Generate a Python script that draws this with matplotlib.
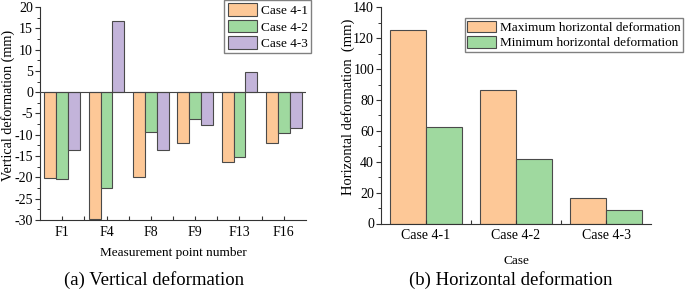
import matplotlib
matplotlib.use("Agg")
import matplotlib.pyplot as plt
import numpy as np
from matplotlib.ticker import MultipleLocator, FixedLocator

plt.rcParams['font.family'] = ['Liberation Serif', 'DejaVu Serif']
plt.rcParams['axes.unicode_minus'] = False

# (a) vertical deformation
points = ['F1', 'F4', 'F8', 'F9', 'F13', 'F16']
case41_v = [-20.1, -29.8, -20.0, -12.0, -16.4, -11.9]
case42_v = [-20.3, -22.6, -9.3, -6.2, -15.2, -9.6]
case43_v = [-13.5, 16.6, -13.6, -7.6, 4.8, -8.4]

# (b) horizontal deformation
cases = ['Case 4-1', 'Case 4-2', 'Case 4-3']
max_h = [125.3, 86.2, 16.3]
min_h = [62.6, 41.8, 8.5]

orange = '#FDC897'
green = '#9FD99F'
purple = '#C3B4DA'
edge = '#4a4a4a'

W, H = 685, 289
fig = plt.figure(figsize=(W / 100, H / 100), dpi=100)


def px_axes(x0, x1, ytop, ybot):
    return fig.add_axes([x0 / W, (H - ybot) / H, (x1 - x0) / W, (ybot - ytop) / H])


def style(ax):
    for s in ['top', 'right']:
        ax.spines[s].set_visible(False)
    for s in ['left', 'bottom']:
        ax.spines[s].set_linewidth(0.8)
        ax.spines[s].set_color('#333333')
    ax.tick_params(axis='y', which='major', direction='out', length=3.5, width=0.8,
                   labelsize=10, pad=1.5, color='#333333')
    ax.tick_params(axis='y', which='minor', direction='out', length=2, width=0.7, color='#333333')
    ax.tick_params(axis='x', which='major', direction='in', length=3, width=0.8,
                   labelsize=10, pad=4, color='#333333')
    ax.tick_params(axis='x', which='minor', direction='in', length=3, width=0.8, color='#333333')


# left panel
ax1 = px_axes(40, 306, 7, 220)
x = np.arange(1, len(points) + 1)
bw = 0.267
ax1.bar(x - bw, case41_v, bw, color=orange, edgecolor=edge, linewidth=0.8, label='Case 4-1')
ax1.bar(x, case42_v, bw, color=green, edgecolor=edge, linewidth=0.8, label='Case 4-2')
ax1.bar(x + bw, case43_v, bw, color=purple, edgecolor=edge, linewidth=0.8, label='Case 4-3')
ax1.axhline(0, color='#444444', linewidth=0.8, zorder=3)
ax1.set_xlim(0.5, 6.5)
ax1.set_ylim(-30, 20)
ax1.set_xticks(x)
ax1.set_xticklabels(points)
ax1.xaxis.set_minor_locator(FixedLocator(np.arange(1.5, 6.5, 1)))
ax1.yaxis.set_major_locator(MultipleLocator(5))
ax1.yaxis.set_minor_locator(MultipleLocator(2.5))
style(ax1)
ax1.set_xlabel('Measurement point number', fontsize=9.5, labelpad=6)
ax1.set_ylabel('Vertical deformation (mm)', fontsize=10.2)
ax1.yaxis.set_label_coords(-25 / 266, 0.54)
ax1.legend(loc='upper right', bbox_to_anchor=(311 / W, 1.0), bbox_transform=fig.transFigure,
           fontsize=9.5, frameon=True, fancybox=False, edgecolor='#808080', framealpha=1,
           borderaxespad=0, borderpad=0.25, handlelength=2.2, handleheight=1.1,
           handletextpad=0.3, labelspacing=0.2)

# right panel
ax2 = px_axes(381, 651, 7.3, 223.5)
xc = np.arange(1, len(cases) + 1)
bw2 = 0.4
ax2.bar(xc - bw2 / 2, max_h, bw2, color=orange, edgecolor=edge, linewidth=0.8,
        label='Maximum horizontal deformation')
ax2.bar(xc + bw2 / 2, min_h, bw2, color=green, edgecolor=edge, linewidth=0.8,
        label='Minimum horizontal deformation')
ax2.set_xlim(0.5, 3.5)
ax2.set_ylim(0, 140)
ax2.set_xticks(xc)
ax2.set_xticklabels(cases)
ax2.xaxis.set_minor_locator(FixedLocator([1.5, 2.5]))
ax2.yaxis.set_major_locator(MultipleLocator(20))
ax2.yaxis.set_minor_locator(MultipleLocator(10))
style(ax2)
ax2.set_xlabel('Case', fontsize=9.5, labelpad=9)
ax2.set_ylabel('Horizontal deformation  (mm)', fontsize=10.5)
ax2.yaxis.set_label_coords(-26 / 270, 0.54)
ax2.legend(loc='upper right', bbox_to_anchor=(683 / W, 1 - 18 / H), bbox_transform=fig.transFigure,
           fontsize=9.5, frameon=True, fancybox=False, edgecolor='#808080', framealpha=1,
           borderaxespad=0, borderpad=0.2, handlelength=2.2, handleheight=1.0,
           handletextpad=0.25, labelspacing=0.15)

fig.text(154 / W, 1 - 280 / H, '(a) Vertical deformation', ha='center', va='center', fontsize=13.5)
fig.text(511 / W, 1 - 280 / H, '(b) Horizontal deformation', ha='center', va='center', fontsize=13.5)

fig.savefig('out.png', dpi=100)
